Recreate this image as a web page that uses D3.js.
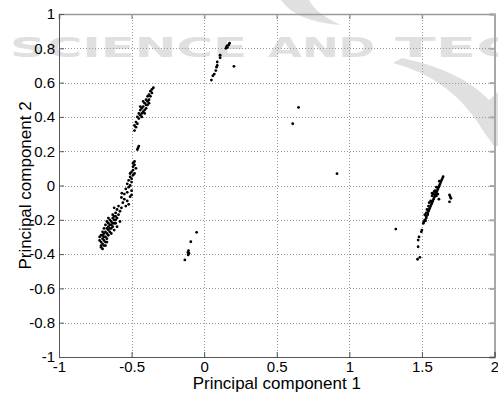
<!DOCTYPE html>
<html>
<head>
<meta charset="utf-8">
<script src="https://cdn.jsdelivr.net/npm/d3@7"></script>
<style>
  body { margin: 0; background: #fff; }
  svg text { font-family: "Liberation Sans", Arial, sans-serif; }
  .tick text { font-size: 15px; fill: #000; }
  .xylabels { font-size: 17px; fill: #000; }
  .wm { font-family: "DejaVu Sans", sans-serif; font-weight: bold; font-size: 27px; }
</style>
</head>
<body>
<script>

// data (principal component 1, principal component 2)
var lowerBand = [
  [-0.71,-0.36],[-0.70,-0.37],[-0.70,-0.34],[-0.69,-0.35],[-0.71,-0.33],[-0.69,-0.32],
  [-0.72,-0.30],[-0.70,-0.31],[-0.68,-0.33],[-0.68,-0.30],[-0.69,-0.28],[-0.71,-0.29],
  [-0.67,-0.31],[-0.67,-0.28],[-0.66,-0.29],[-0.68,-0.27],[-0.70,-0.27],[-0.66,-0.26],
  [-0.65,-0.27],[-0.67,-0.25],[-0.69,-0.25],[-0.64,-0.25],[-0.65,-0.23],[-0.66,-0.22],
  [-0.68,-0.23],[-0.63,-0.24],[-0.63,-0.22],[-0.64,-0.21],[-0.62,-0.20],[-0.65,-0.20],
  [-0.61,-0.22],[-0.62,-0.18],[-0.60,-0.19],[-0.63,-0.17],[-0.61,-0.16],[-0.59,-0.17],
  [-0.60,-0.14],[-0.58,-0.15],[-0.62,-0.13],[-0.59,-0.12],[-0.57,-0.13],[-0.66,-0.19],
  [-0.64,-0.28],[-0.62,-0.26],[-0.60,-0.24],[-0.67,-0.21],[-0.70,-0.29],[-0.72,-0.32],
  [-0.69,-0.30],[-0.66,-0.24],[-0.63,-0.19],[-0.61,-0.20],[-0.58,-0.21],[-0.71,-0.35],
  [-0.68,-0.35],[-0.67,-0.33],[-0.65,-0.25],[-0.64,-0.23],[-0.62,-0.22],[-0.61,-0.18]
];

var middleColumn = [
  [-0.56,-0.10],[-0.55,-0.08],[-0.57,-0.07],[-0.53,-0.09],[-0.55,-0.05],[-0.53,-0.04],
  [-0.54,-0.02],[-0.52,-0.01],[-0.53,0.01],[-0.51,0.00],[-0.52,0.03],[-0.50,0.02],
  [-0.51,0.05],[-0.50,0.04],[-0.49,0.06],[-0.50,0.08],[-0.49,0.09],[-0.48,0.07],
  [-0.49,0.11],[-0.48,0.12],[-0.48,0.14],[-0.47,0.10],[-0.50,-0.03],[-0.51,-0.065],
  [-0.50,-0.055],[-0.567,-0.045],[-0.52,-0.11],[-0.54,-0.12],[-0.49,0.13],[-0.51,0.07]
];

var pairPoints = [[-0.46,0.21],[-0.455,0.22],[-0.45,0.23]];

var upperBand = [
  [-0.48,0.32],[-0.47,0.34],[-0.48,0.35],[-0.46,0.36],[-0.47,0.37],[-0.45,0.39],
  [-0.46,0.40],[-0.44,0.41],[-0.45,0.42],[-0.43,0.42],[-0.44,0.44],[-0.42,0.43],
  [-0.43,0.45],[-0.41,0.44],[-0.42,0.46],[-0.40,0.47],[-0.41,0.48],[-0.39,0.49],
  [-0.40,0.50],[-0.38,0.50],[-0.39,0.52],[-0.37,0.52],[-0.38,0.53],[-0.36,0.54],
  [-0.37,0.55],[-0.36,0.56],[-0.35,0.57],[-0.43,0.40],[-0.41,0.42],[-0.40,0.45],
  [-0.39,0.47],[-0.38,0.48],[-0.42,0.49],[-0.44,0.46]
];

var topCluster = [
  [0.05,0.615],[0.06,0.64],[0.07,0.65],[0.08,0.67],[0.085,0.69],[0.09,0.70],
  [0.09,0.72],[0.11,0.745],[0.11,0.76],[0.15,0.80],[0.155,0.81],[0.16,0.815],
  [0.17,0.82],[0.175,0.83],[0.16,0.805],[0.205,0.695]
];

var bottomCluster = [
  [-0.052,-0.273],[-0.092,-0.328],[-0.108,-0.38],[-0.112,-0.39],[-0.105,-0.395],
  [-0.11,-0.405],[-0.133,-0.434]
];

var loners = [[0.61,0.36],[0.65,0.455],[0.915,0.069],[1.32,-0.254]];

var rightBand = [
  [1.51,-0.22],[1.515,-0.21],[1.52,-0.20],[1.53,-0.19],[1.53,-0.18],[1.54,-0.17],
  [1.54,-0.16],[1.545,-0.15],[1.55,-0.14],[1.555,-0.13],[1.56,-0.12],[1.565,-0.11],
  [1.57,-0.10],[1.565,-0.094],[1.575,-0.09],[1.58,-0.08],[1.585,-0.07],[1.59,-0.06],
  [1.576,-0.046],[1.595,-0.05],[1.60,-0.04],[1.605,-0.03],[1.61,-0.02],[1.615,-0.01],
  [1.62,0.00],[1.625,0.01],[1.63,0.02],[1.635,0.03],[1.64,0.04],[1.646,0.051],
  [1.617,-0.08],[1.61,-0.05],[1.60,-0.06],[1.525,-0.205],[1.55,-0.10],[1.56,-0.09],
  [1.58,-0.05],[1.59,-0.03],[1.52,-0.17],[1.53,-0.16],[1.57,-0.06],[1.60,-0.01],
  [1.62,0.025],[1.585,-0.035],[1.57,-0.045],[1.545,-0.12],[1.535,-0.14]
];

var rightPair = [[1.69,-0.055],[1.695,-0.065],[1.70,-0.075],[1.69,-0.095]];

var rightTail = [
  [1.496,-0.27],[1.50,-0.26],[1.48,-0.30],[1.474,-0.318],[1.474,-0.357],
  [1.486,-0.419],[1.47,-0.43]
];

var xTicks = [-1, -0.5, 0, 0.5, 1, 1.5, 2];
var xTickLabels = ["-1", "-0.5", "0", "0.5", "1", "1.5", "2"];
var yTicks = [-1, -0.8, -0.6, -0.4, -0.2, 0, 0.2, 0.4, 0.6, 0.8, 1];
var yTickLabels = ["-1", "-0.8", "-0.6", "-0.4", "-0.2", "0", "0.2", "0.4", "0.6", "0.8", "1"];

var points = [].concat(lowerBand, middleColumn, pairPoints, upperBand, topCluster,
                       bottomCluster, loners, rightBand, rightPair, rightTail);

//setting dimensions
var margin = {top: 14, right: 3.5, bottom: 39, left: 59},
    width = 498 - margin.left - margin.right,
    height = 396 - margin.top - margin.bottom;

//setting ranges
var x = d3.scaleLinear().domain([-1, 2]).range([0, width]);
var y = d3.scaleLinear().domain([-1, 1]).range([height, 0]);

var root = d3.select("body").append("svg")
    .attr("width", 498)
    .attr("height", 396);

// watermark behind the plot
var wm = root.append("g").attr("fill", "#e0e0e0");
wm.append("path").attr("d", "M281,0 Q296,22 341,25 Q316,14 309,0 Z");
wm.append("path").attr("d", "M393,63 Q452,78 484,132 L494,146 L498,146 L498,92 L489,100 Q460,70 402,58 Z");
[["SCIENCE", 10, 237], ["AND", 268, 107], ["TEC", 395, 125]].forEach(function(w) {
  wm.append("text")
    .attr("class", "wm")
    .attr("x", w[1]).attr("y", 57)
    .attr("textLength", w[2])
    .attr("lengthAdjust", "spacingAndGlyphs")
    .text(w[0]);
});

var svg = root.append("g")
    .attr("transform", "translate(" + margin.left + "," + margin.top + ")");

// dotted grid
svg.append("g").selectAll("line").data(xTicks.slice(1, -1)).enter().append("line")
    .attr("x1", function(d) { return Math.round(x(d)) + 0.5; })
    .attr("x2", function(d) { return Math.round(x(d)) + 0.5; })
    .attr("y1", 0).attr("y2", height)
    .attr("stroke", "#999").attr("stroke-dasharray", "1,2");
svg.append("g").selectAll("line").data(yTicks.slice(1, -1)).enter().append("line")
    .attr("y1", function(d) { return Math.round(y(d)) + 0.5; })
    .attr("y2", function(d) { return Math.round(y(d)) + 0.5; })
    .attr("x1", 0).attr("x2", width)
    .attr("stroke", "#999").attr("stroke-dasharray", "1,2");

// points
svg.append("g").selectAll("circle").data(points).enter().append("circle")
    .attr("cx", function(d) { return x(d[0]); })
    .attr("cy", function(d) { return y(d[1]); })
    .attr("r", 1.4)
    .attr("fill", "#000");

// top and right box sides, lighter
svg.append("g")
    .call(d3.axisTop(x).tickValues(xTicks).tickFormat("").tickSize(-5))
    .call(function(g) { g.selectAll("path,line").attr("stroke", "#9a9a9a").attr("stroke-width", 1.5); });
svg.append("g")
    .attr("transform", "translate(" + width + ",0)")
    .call(d3.axisRight(y).tickValues(yTicks).tickFormat("").tickSize(-5))
    .call(function(g) { g.selectAll("path,line").attr("stroke", "#a8a8a8").attr("stroke-width", 2); });

// Add the X Axis
svg.append("g")
    .attr("transform", "translate(0," + height + ")")
    .call(d3.axisBottom(x).tickValues(xTicks)
            .tickFormat(function(d, i) { return xTickLabels[i]; })
            .tickSize(-5).tickPadding(4))
    .call(function(g) {
      g.select(".domain").attr("stroke", "#555");
      g.selectAll(".tick line").attr("stroke", "#555");
    });

// Add the Y Axis
svg.append("g")
    .call(d3.axisLeft(y).tickValues(yTicks)
            .tickFormat(function(d, i) { return yTickLabels[i]; })
            .tickSize(-5).tickPadding(4))
    .call(function(g) {
      g.select(".domain").attr("stroke", "#555");
      g.selectAll(".tick line").attr("stroke", "#555");
    });

// text label for the x axis
svg.append("text")
    .attr("x", width / 2)
    .attr("y", height + 32)
    .attr("class", "xylabels")
    .style("text-anchor", "middle")
    .text("Principal component 1");

// text label for the y axis
svg.append("text")
    .attr("transform", "rotate(-90)")
    .attr("x", 0 - (y(0)))
    .attr("y", 31 - margin.left)
    .attr("class", "xylabels")
    .style("text-anchor", "middle")
    .text("Principal component 2");

</script>
</body>
</html>
